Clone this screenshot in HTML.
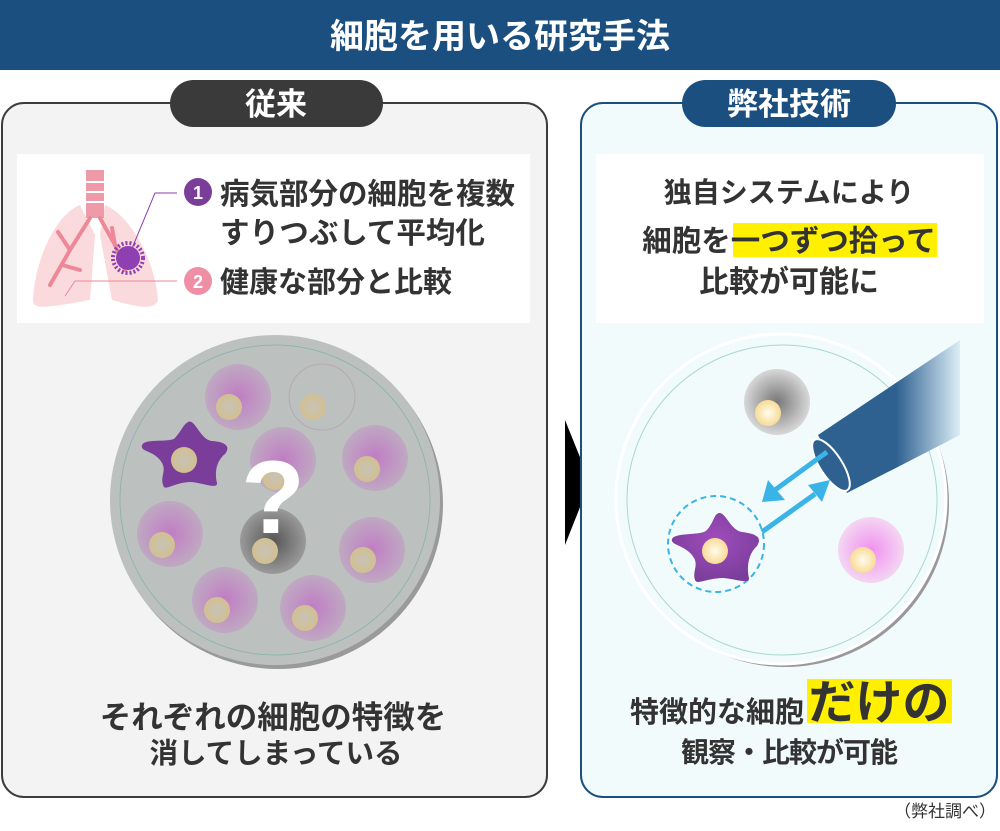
<!DOCTYPE html>
<html><head><meta charset="utf-8"><style>
body{margin:0;width:1000px;height:826px;background:#fff;overflow:hidden;font-family:"Liberation Sans","Noto Sans CJK JP",sans-serif;}
svg text{font-family:"Liberation Sans","Noto Sans CJK JP",sans-serif;font-weight:bold;}
</style></head><body>
<svg width="1000" height="826" viewBox="0 0 1000 826" xmlns="http://www.w3.org/2000/svg">
<defs>
<radialGradient id="pk" cx="0.5" cy="0.5" r="0.5"><stop offset="0" stop-color="#c07cc4"/><stop offset="1" stop-color="#bfa9c2"/></radialGradient>
<radialGradient id="pk2" cx="0.5" cy="0.5" r="0.5"><stop offset="0" stop-color="#f090f0"/><stop offset="1" stop-color="#f4d6f2"/></radialGradient>
<radialGradient id="gr" cx="0.5" cy="0.5" r="0.5"><stop offset="0" stop-color="#555"/><stop offset="1" stop-color="#9a9a9a"/></radialGradient>
<radialGradient id="gr2" cx="0.5" cy="0.5" r="0.5"><stop offset="0" stop-color="#777"/><stop offset="1" stop-color="#d8d8d8"/></radialGradient>
<radialGradient id="nu" cx="0.5" cy="0.5" r="0.5"><stop offset="0" stop-color="#c8c2b8"/><stop offset="1" stop-color="#d2c090"/></radialGradient>
<radialGradient id="nu2" cx="0.5" cy="0.5" r="0.5"><stop offset="0" stop-color="#fffbee"/><stop offset="1" stop-color="#f8dc96"/></radialGradient>
<radialGradient id="st" cx="0.5" cy="0.4" r="0.6"><stop offset="0" stop-color="#a04cbc"/><stop offset="1" stop-color="#7a3e9a"/></radialGradient>
<linearGradient id="tube" x1="0" y1="0" x2="1" y2="0"><stop offset="0" stop-color="#2e6090"/><stop offset="0.55" stop-color="#2e6090"/><stop offset="1" stop-color="#dceef6"/></linearGradient>
</defs>
<!-- header -->
<rect x="0" y="0" width="1000" height="70" fill="#1b4f80"/>
<text x="500" y="48" font-size="34" fill="#fff" text-anchor="middle">細胞を用いる研究手法</text>

<!-- left panel -->
<rect x="2" y="103" width="545" height="694" rx="22" fill="#f3f3f3" stroke="#3c3c3c" stroke-width="2"/>
<rect x="170" y="80" width="213" height="47" rx="23.5" fill="#3a3a3a"/>
<text x="276" y="115" font-size="31" fill="#fff" text-anchor="middle">従来</text>
<rect x="17" y="154" width="513" height="169" fill="#fff"/>
<!-- lungs -->
<path d="M80 205 C55 215 35 260 33 300 C33 310 45 308 90 300 L95 235 Z" fill="#fadadd"/>
<path d="M105 205 C130 215 155 260 158 300 C155 310 140 308 112 300 L100 235 Z" fill="#fadadd"/>
<rect x="86" y="170" width="18" height="48" fill="#ef9aa8"/>
<g stroke="#fff" stroke-width="2"><line x1="86" y1="182" x2="104" y2="182"/><line x1="86" y1="192" x2="104" y2="192"/><line x1="86" y1="202" x2="104" y2="202"/></g>
<g stroke="#ec8898" stroke-width="4" fill="none" stroke-linecap="round"><path d="M90 218 L70 250 L50 285"/><path d="M70 250 L58 232"/><path d="M62 265 L80 270"/><path d="M100 218 L115 245 L125 270"/><path d="M115 245 L112 228"/></g>
<g fill="#8e3fb0"><circle cx="128" cy="258" r="12"/></g>
<circle cx="128" cy="258" r="15" fill="none" stroke="#8e3fb0" stroke-width="4" stroke-dasharray="2 2"/>
<polyline points="128,258 155,193 177,193" fill="none" stroke="#8e3fb0" stroke-width="1"/>
<polyline points="65,296 75,281 177,281" fill="none" stroke="#ec8898" stroke-width="1"/>
<circle cx="198" cy="192" r="14" fill="#7a3e9a"/><text x="198" y="199" font-size="18" fill="#fff" text-anchor="middle">1</text>
<circle cx="198" cy="281" r="14" fill="#ee8fa6"/><text x="198" y="288" font-size="18" fill="#fff" text-anchor="middle">2</text>
<text x="220" y="204" font-size="29.5" fill="#333">病気部分の細胞を複数</text>
<text x="220" y="243" font-size="29.5" fill="#333">すりつぶして平均化</text>
<text x="220" y="292" font-size="29" fill="#333">健康な部分と比較</text>
<!-- left dish -->
<circle cx="278" cy="504" r="165" fill="#9a9a9a"/>
<circle cx="275" cy="500" r="165" fill="#bcc1c0"/>
<circle cx="275" cy="500" r="155" fill="none" stroke="#8fb5ad" stroke-width="1"/>
<circle cx="238" cy="397" r="33" fill="url(#pk)"/><circle cx="229" cy="407" r="13" fill="url(#nu)"/>
<circle cx="322" cy="397" r="33" fill="none" stroke="#b8a8b0" stroke-width="1"/><circle cx="313" cy="407" r="13" fill="url(#nu)"/>
<circle cx="283" cy="460" r="33" fill="url(#pk)"/><circle cx="275" cy="477" r="13" fill="url(#nu)"/>
<circle cx="375" cy="458" r="33" fill="url(#pk)"/><circle cx="367" cy="469" r="13" fill="url(#nu)"/>
<circle cx="170" cy="534" r="33" fill="url(#pk)"/><circle cx="162" cy="545" r="13" fill="url(#nu)"/>
<circle cx="273" cy="541" r="33" fill="url(#gr)"/><circle cx="265" cy="551" r="13" fill="url(#nu)"/>
<circle cx="372" cy="550" r="33" fill="url(#pk)"/><circle cx="363" cy="560" r="13" fill="url(#nu)"/>
<circle cx="225" cy="600" r="33" fill="url(#pk)"/><circle cx="217" cy="610" r="13" fill="url(#nu)"/>
<circle cx="313" cy="608" r="33" fill="url(#pk)"/><circle cx="305" cy="618" r="13" fill="url(#nu)"/>
<path d="M188 422 C195 418 200 440 212 441 C228 442 230 448 225 454 C215 462 215 475 217 483 C218 490 200 482 190 482 C172 483 165 492 163 485 C160 475 168 470 160 460 C152 450 140 452 142 445 C145 438 170 443 175 438 C182 430 183 425 188 422Z" fill="#7a3e9a"/>
<circle cx="184" cy="460" r="13" fill="url(#nu)"/>
<text x="273" y="533" font-size="104" fill="#fff" text-anchor="middle">?</text>
<text x="273" y="728" font-size="31.5" fill="#333" text-anchor="middle">それぞれの細胞の特徴を</text>
<text x="276" y="763" font-size="28.5" fill="#333" text-anchor="middle">消してしまっている</text>

<!-- arrow -->
<polygon points="565,420 590,482 565,545" fill="#000"/>

<!-- right panel -->
<rect x="581" y="103" width="416" height="694" rx="22" fill="#f2fbfc" stroke="#1b4f80" stroke-width="2"/>
<rect x="682" y="80" width="214" height="47" rx="23.5" fill="#1b4f80"/>
<text x="789" y="115" font-size="31" fill="#fff" text-anchor="middle">弊社技術</text>
<rect x="596" y="154" width="388" height="169" fill="#fff"/>
<rect x="733" y="223" width="204" height="34" fill="#fff000"/>
<text x="789" y="202" font-size="28" fill="#333" text-anchor="middle">独自システムにより</text>
<text x="789" y="251" font-size="29.5" fill="#333" text-anchor="middle">細胞を一つずつ拾って</text>
<text x="789" y="292" font-size="30" fill="#333" text-anchor="middle">比較が可能に</text>
<!-- right dish -->
<circle cx="785" cy="503" r="164" fill="#999"/>
<circle cx="781" cy="499" r="165" fill="#f2fbfc" stroke="#fff" stroke-width="3"/>
<circle cx="782" cy="500" r="155" fill="none" stroke="#a8d8d0" stroke-width="1"/>
<circle cx="777" cy="402" r="33" fill="url(#gr2)"/><circle cx="768" cy="413" r="13" fill="url(#nu2)"/>
<circle cx="871" cy="550" r="33" fill="url(#pk2)"/><circle cx="863" cy="560" r="13" fill="url(#nu2)"/>
<circle cx="716" cy="544" r="48" fill="none" stroke="#3ab4e6" stroke-width="2" stroke-dasharray="6 4"/>
<path d="M719 513 C726 512 730 530 742 532 C758 534 762 538 757 546 C747 555 747 570 749 578 C750 585 732 578 722 578 C704 579 697 585 695 580 C692 570 700 565 692 555 C684 545 670 545 672 539 C675 532 702 536 707 530 C714 522 714 514 719 513Z" fill="url(#st)"/>
<circle cx="715" cy="551" r="13" fill="url(#nu2)"/>
<polygon points="818,435 960,340 960,435 847,493" fill="url(#tube)"/>
<ellipse cx="831" cy="465" rx="11" ry="30" transform="rotate(-33 831 465)" fill="#2e6090" stroke="#fff" stroke-width="2"/>
<g stroke="#3ab4e6" stroke-width="5"><line x1="827" y1="452" x2="775" y2="490"/><line x1="762" y1="532" x2="815" y2="494"/></g>
<polygon points="762,502 768,480 785,500" fill="#3ab4e6"/>
<polygon points="830,480 808,485 822,502" fill="#3ab4e6"/>
<rect x="807" y="679" width="145" height="44" fill="#fff000"/>
<text x="804" y="722" font-size="29" fill="#333" text-anchor="end">特徴的な細胞</text>
<text x="879" y="719" font-size="47" fill="#333" text-anchor="middle">だけの</text>
<text x="789" y="762" font-size="28" fill="#333" text-anchor="middle" letter-spacing="-1">観察・比較が可能</text>
<text x="996" y="817" font-size="17" fill="#333" text-anchor="end" style="font-weight:normal">（弊社調べ）</text>
</svg>
</body></html>
